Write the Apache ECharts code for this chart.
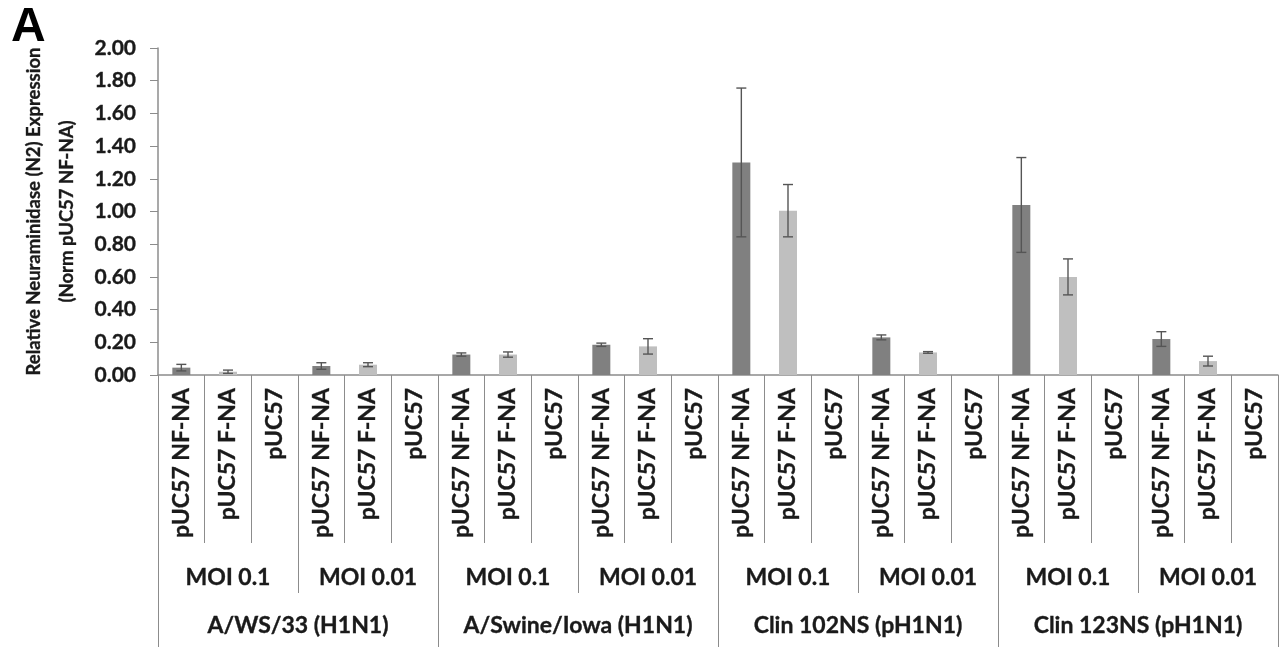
<!DOCTYPE html>
<html><head><meta charset="utf-8">
<script src="https://cdn.jsdelivr.net/npm/echarts@6/dist/echarts.min.js"></script>
<style>html,body{margin:0;padding:0;background:#fff}#c{width:1288px;height:647px}</style>
</head><body><div id="c"></div>
<script>
const strains = ['A/WS/33 (H1N1)', 'A/Swine/Iowa (H1N1)', 'Clin 102NS (pH1N1)', 'Clin 123NS (pH1N1)'];
const mois = ['MOI 0.1', 'MOI 0.01'];
const constructs = ['pUC57 NF-NA', 'pUC57 F-NA', 'pUC57'];
// one value per strain x MOI group (8 groups)
const nfNA    = [0.045, 0.055, 0.125, 0.185, 1.30, 0.23, 1.04, 0.22];
const nfNAErr = [0.020, 0.020, 0.010, 0.010, 0.455, 0.015, 0.29, 0.045];
const fNA     = [0.020, 0.063, 0.125, 0.175, 1.005, 0.138, 0.60, 0.085];
const fNAErr  = [0.010, 0.012, 0.016, 0.047, 0.160, 0.005, 0.11, 0.030];
const pUC     = [0, 0, 0, 0, 0, 0, 0, 0];
const yMin = 0, yMax = 2, yStep = 0.2;

const cats = [], moiCats = [];
const nfData = [], fData = [], pData = [], errData = [];
strains.forEach((s, si) => {
  mois.forEach((m, mi) => {
    const g = si * 2 + mi;
    moiCats.push(m);
    constructs.forEach((c, ci) => {
      const idx = cats.length;
      cats.push(c);
      nfData.push(ci === 0 ? nfNA[g] : '-');
      fData.push(ci === 1 ? fNA[g] : '-');
      pData.push(ci === 2 ? pUC[g] : '-');
      if (ci === 0) errData.push([idx, nfNA[g] - nfNAErr[g], nfNA[g] + nfNAErr[g]]);
      if (ci === 1) errData.push([idx, fNA[g] - fNAErr[g], fNA[g] + fNAErr[g]]);
    });
  });
});

const FONT = 'Lato';
const TXT = '#1a1a1a';
const AX = '#8c8c8c';
const lbl = (size, extra) => Object.assign({fontFamily: FONT, fontWeight: 'bold', fontSize: size, color: TXT,
  textBorderColor: TXT, textBorderWidth: 0.35}, extra || {});
const chart = echarts.init(document.getElementById('c'), null, {renderer: 'canvas'});
chart.setOption({
  animation: false,
  title: {text: 'A', left: 6, top: -1, textStyle: {fontFamily: 'Liberation Sans', fontWeight: 'bold', fontSize: 48, color: '#000'}},
  grid: {left: 158, right: 10, top: 48, bottom: 272, containLabel: false},
  xAxis: [
    {type: 'category', data: cats, position: 'bottom', offset: 0,
     axisLine: {show: true, lineStyle: {color: AX, width: 1.5}},
     axisTick: {show: true, length: 168, interval: 0, lineStyle: {color: AX, width: 1}},
     axisLabel: lbl(23, {interval: 0, rotate: 90, margin: 13})},
    {type: 'category', data: moiCats, position: 'bottom', offset: 0,
     axisLine: {show: false},
     axisTick: {show: true, length: 218, interval: 0, lineStyle: {color: AX, width: 1}},
     axisLabel: lbl(23, {interval: 0, margin: 191})},
    {type: 'category', data: strains, position: 'bottom', offset: 0,
     axisLine: {show: false},
     axisTick: {show: true, length: 272, interval: 0, lineStyle: {color: AX, width: 1}},
     axisLabel: lbl(23, {interval: 0, margin: 239})}
  ],
  yAxis: {type: 'value', min: yMin, max: yMax, interval: yStep,
    name: 'Relative Neuraminidase (N2) Expression\n(Norm pUC57 NF-NA)',
    nameLocation: 'middle', nameGap: 69, nameRotate: 90,
    nameTextStyle: lbl(18.5, {lineHeight: 33, align: 'center'}),
    axisLine: {show: true, lineStyle: {color: AX, width: 1.5}},
    axisTick: {show: true, length: 8, lineStyle: {color: AX}},
    splitLine: {show: false},
    axisLabel: lbl(21, {margin: 22, formatter: v => v.toFixed(2)})},
  series: [
    {name: 'NF-NA', type: 'bar', stack: 's', data: nfData, barWidth: 18, itemStyle: {color: '#808080'}},
    {name: 'F-NA', type: 'bar', stack: 's', data: fData, barWidth: 18, itemStyle: {color: '#bfbfbf'}},
    {name: 'pUC57', type: 'bar', stack: 's', data: pData, barWidth: 18, itemStyle: {color: '#bfbfbf'}},
    {name: 'err', type: 'custom', data: errData, z: 10,
     renderItem: (params, api) => {
       const x = api.value(0);
       const lo = api.coord([x, api.value(1)]);
       const hi = api.coord([x, api.value(2)]);
       const hw = 5;
       const st = {stroke: '#555', lineWidth: 1.4};
       return {type: 'group', children: [
         {type: 'line', shape: {x1: lo[0], y1: lo[1], x2: hi[0], y2: hi[1]}, style: st},
         {type: 'line', shape: {x1: hi[0] - hw, y1: hi[1], x2: hi[0] + hw, y2: hi[1]}, style: st},
         {type: 'line', shape: {x1: lo[0] - hw, y1: lo[1], x2: lo[0] + hw, y2: lo[1]}, style: st}
       ]};
     }}
  ]
});
</script></body></html>
